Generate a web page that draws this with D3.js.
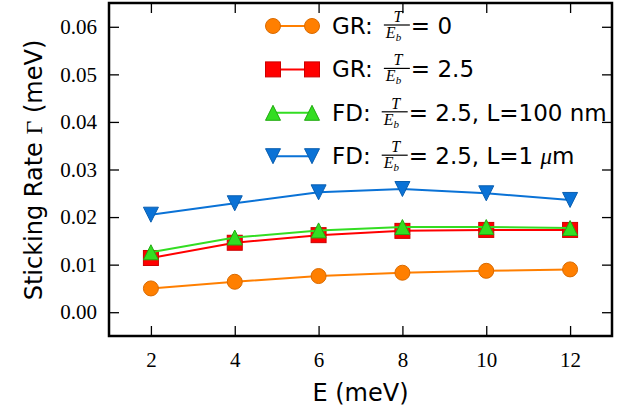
<!DOCTYPE html>
<html>
<head>
<meta charset="utf-8">
<script src="https://cdn.jsdelivr.net/npm/d3@7"></script>
<style>
  body { margin: 0; background: white; }
  svg { display: block; }
</style>
</head>
<body>
<svg id="chart" width="644" height="414"></svg>
<script>
// values
const energies = [2, 4, 6, 8, 10, 12];
const grT0 = [0.0050, 0.0064, 0.0076, 0.0083, 0.0087, 0.0090];
const grT25 = [0.0114, 0.0146, 0.0162, 0.0171, 0.0173, 0.0173];
const fd100nm = [0.0126, 0.0157, 0.0172, 0.0179, 0.0179, 0.0177];
const fd1um = [0.0205, 0.0229, 0.0252, 0.0259, 0.0250, 0.0236];
const xTicks = [2, 4, 6, 8, 10, 12];
const yTicks = [0.00, 0.01, 0.02, 0.03, 0.04, 0.05, 0.06];

const series = [
    {name: "GR:", rest: "= 0", values: grT0, color: "#ff7f00", edge: "#d96a00", marker: "circle"},
    {name: "GR:", rest: "= 2.5", values: grT25, color: "#ff0000", edge: "#cc0000", marker: "square"},
    {name: "FD:", rest: "= 2.5, L=100 nm", values: fd100nm, color: "#33dd22", edge: "#22aa11", marker: "up"},
    {name: "FD:", rest: "= 2.5, L=1 ", mu: true, values: fd1um, color: "#0a72d6", edge: "#0a5fb0", marker: "down"}
];

const sans = "DejaVu Sans, sans-serif";
const serif = "Liberation Serif, serif";
const pL = 109, pR = 612, pT = 3, pB = 336;
const svg = d3.select("#chart");

let x = d3.scaleLinear().domain([1, 13]).range([pL, pR]);
let y = d3.scaleLinear().domain([-0.005, 0.065]).range([pB, pT]);

// ticks on all four sides, pointing inward
let xa = d3.axisBottom(x).tickValues(xTicks).tickSize(-10).tickPadding(16).tickFormat(d3.format("d"));
let ya = d3.axisLeft(y).tickValues(yTicks).tickSize(-10).tickPadding(12).tickFormat(d3.format(".2f"));
let gx = svg.append("g").attr("transform", `translate(0,${pB})`).call(xa);
let gy = svg.append("g").attr("transform", `translate(${pL},0)`).call(ya);
let gxt = svg.append("g").attr("transform", `translate(0,${pT})`)
    .call(d3.axisTop(x).tickValues(xTicks).tickSize(-10).tickFormat(""));
let gyr = svg.append("g").attr("transform", `translate(${pR},0)`)
    .call(d3.axisRight(y).tickValues(yTicks).tickSize(-10).tickFormat(""));
[gx, gy, gxt, gyr].forEach(g => {
    g.select(".domain").remove();
    g.selectAll(".tick line").attr("stroke", "black").attr("stroke-width", 1.3);
    g.selectAll(".tick text").attr("font-family", serif)
        .attr("font-size", 21).attr("fill", "black");
});

svg.append("rect").attr("x", pL).attr("y", pT).attr("width", pR - pL).attr("height", pB - pT)
    .attr("fill", "none").attr("stroke", "black").attr("stroke-width", 2.5);

function drawMarker(g, type, cx, cy){
    let h = 7.5;
    if(type == "circle"){
        g.append("circle").attr("cx", cx).attr("cy", cy).attr("r", h);
    } else if(type == "square"){
        g.append("rect").attr("x", cx - h).attr("y", cy - h).attr("width", 2*h).attr("height", 2*h);
    } else if(type == "up"){
        g.append("path").attr("d", `M${cx},${cy-h}L${cx+h},${cy+h}L${cx-h},${cy+h}Z`);
    } else {
        g.append("path").attr("d", `M${cx},${cy+h}L${cx+h},${cy-h}L${cx-h},${cy-h}Z`);
    }
}

let line = d3.line().x((d, i) => x(energies[i])).y(d => y(d));
series.forEach(s => {
    svg.append("path").datum(s.values).attr("d", line)
        .attr("fill", "none").attr("stroke", s.color).attr("stroke-width", 2);
    let g = svg.append("g").attr("fill", s.color).attr("stroke", s.edge).attr("stroke-width", 1);
    s.values.forEach((v, i) => drawMarker(g, s.marker, x(energies[i]), y(v)));
});

// legend, no frame
series.forEach((s, i) => {
    let cy = 26 + i * 43.4;
    let g = svg.append("g");
    g.append("line").attr("x1", 273).attr("x2", 312).attr("y1", cy).attr("y2", cy)
        .attr("stroke", s.color).attr("stroke-width", 2);
    let mg = g.append("g").attr("fill", s.color).attr("stroke", s.edge).attr("stroke-width", 1);
    drawMarker(mg, s.marker, 273, cy);
    drawMarker(mg, s.marker, 312, cy);
    let lab = g.append("text").attr("x", 332).attr("y", cy + 8)
        .attr("font-family", sans).attr("font-size", 23).text(s.name);
    let fx = 332 + lab.node().getComputedTextLength() + 11;
    let fw = 26, by = cy - 1;
    g.append("line").attr("x1", fx).attr("x2", fx + fw).attr("y1", by).attr("y2", by)
        .attr("stroke", "black").attr("stroke-width", 1.2);
    g.append("text").attr("x", fx + fw/2 + 1).attr("y", by - 3).attr("text-anchor", "middle")
        .attr("font-family", serif).attr("font-style", "italic").attr("font-size", 16).text("T");
    let eb = g.append("text").attr("x", fx + 2).attr("y", by + 13)
        .attr("font-family", serif).attr("font-style", "italic").attr("font-size", 16);
    eb.append("tspan").text("E");
    eb.append("tspan").attr("font-size", 11).attr("dy", 3).text("b");
    let rt = g.append("text").attr("x", fx + fw + 1).attr("y", cy + 8)
        .attr("font-family", sans).attr("font-size", 23).text(s.rest);
    if(s.mu){
        rt.append("tspan").attr("font-family", serif).attr("font-style", "italic").text("μ");
        rt.append("tspan").text("m");
    }
});

// axis titles
svg.append("text").attr("x", (pL + pR)/2).attr("y", 401).attr("text-anchor", "middle")
    .attr("font-family", sans).attr("font-size", 24).text("E (meV)");
let yl = svg.append("text").attr("transform", "translate(42,170) rotate(-90)").attr("text-anchor", "middle")
    .attr("font-family", sans).attr("font-size", 24);
yl.append("tspan").text("Sticking Rate ");
yl.append("tspan").attr("font-family", serif).text("Γ");
yl.append("tspan").text(" (meV)");
</script>
</body>
</html>
